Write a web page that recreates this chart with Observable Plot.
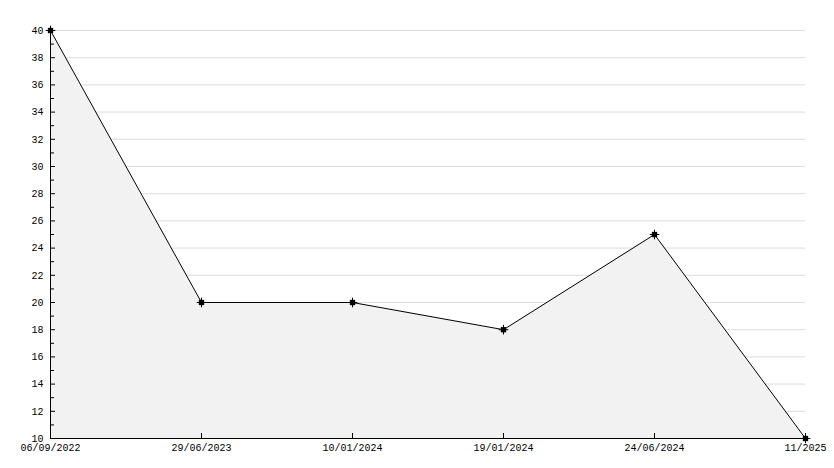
<!DOCTYPE html>
<html>
<head>
<meta charset="utf-8">
<script src="https://cdn.jsdelivr.net/npm/d3@7"></script>
<script src="https://cdn.jsdelivr.net/npm/@observablehq/plot@0.6"></script>
<style>
  html, body { margin: 0; padding: 0; background: #fff; }
  #chart svg { display: block; }
</style>
</head>
<body>
<div id="chart"></div>
<script>
const dates = ["06/09/2022", "29/06/2023", "10/01/2024", "19/01/2024", "24/06/2024", "11/2025"];
const values = [40, 20, 20, 18, 25, 10];
const majorTicks = [10, 12, 14, 16, 18, 20, 22, 24, 26, 28, 30, 32, 34, 36, 38, 40];
const minorTicks = [11, 13, 15, 17, 19, 21, 23, 25, 27, 29, 31, 33, 35, 37, 39];
const gridValues = [12, 14, 16, 18, 20, 22, 24, 26, 28, 30, 32, 34, 36, 38, 40];

const data = dates.map((d, i) => ({date: d, value: values[i]}));
const font = "'Liberation Mono', 'DejaVu Sans Mono', monospace";

const chart = Plot.plot({
  width: 834,
  height: 468,
  marginLeft: 50,
  marginRight: 29,
  marginTop: 30,
  marginBottom: 30,
  style: {fontFamily: font, fontSize: "10px", background: "#fff", color: "#000"},
  x: {type: "point", domain: dates, padding: 0, label: null},
  y: {domain: [10, 40], label: null},
  marks: [
    Plot.gridY(gridValues, {stroke: "#dddddd", strokeOpacity: 1}),
    Plot.areaY(data, {x: "date", y1: 10, y2: "value", fill: "#f2f2f2", curve: "linear"}),
    Plot.line(data, {x: "date", y: "value", stroke: "#000", strokeWidth: 1}),
    Plot.ruleX([dates[0]], {stroke: "#000"}),
    Plot.ruleY([10], {stroke: "#000"}),
    Plot.axisY({ticks: majorTicks, tickSize: 5, insetLeft: 5, tickPadding: 7, tickFormat: d => String(d), fill: "#000", stroke: "#000", fontSize: 10, fontWeight: "normal", label: null}),
    Plot.axisY({ticks: minorTicks, tickSize: 4, insetLeft: 4, tickFormat: () => "", stroke: "#000", label: null}),
    Plot.axisX({ticks: dates, tickSize: 5, insetBottom: 5, tickPadding: 5, fill: "#000", stroke: "#000", fontSize: 10, fontWeight: "normal", label: null}),
    Plot.dot(data, {x: "date", y: "value", symbol: "square", r: 3, fill: "#000", stroke: "none"}),
    Plot.dot(data, {x: "date", y: "value", symbol: "plus", r: 3.2, stroke: "#000", strokeWidth: 1})
  ]
});
document.getElementById("chart").appendChild(chart);
</script>
</body>
</html>
